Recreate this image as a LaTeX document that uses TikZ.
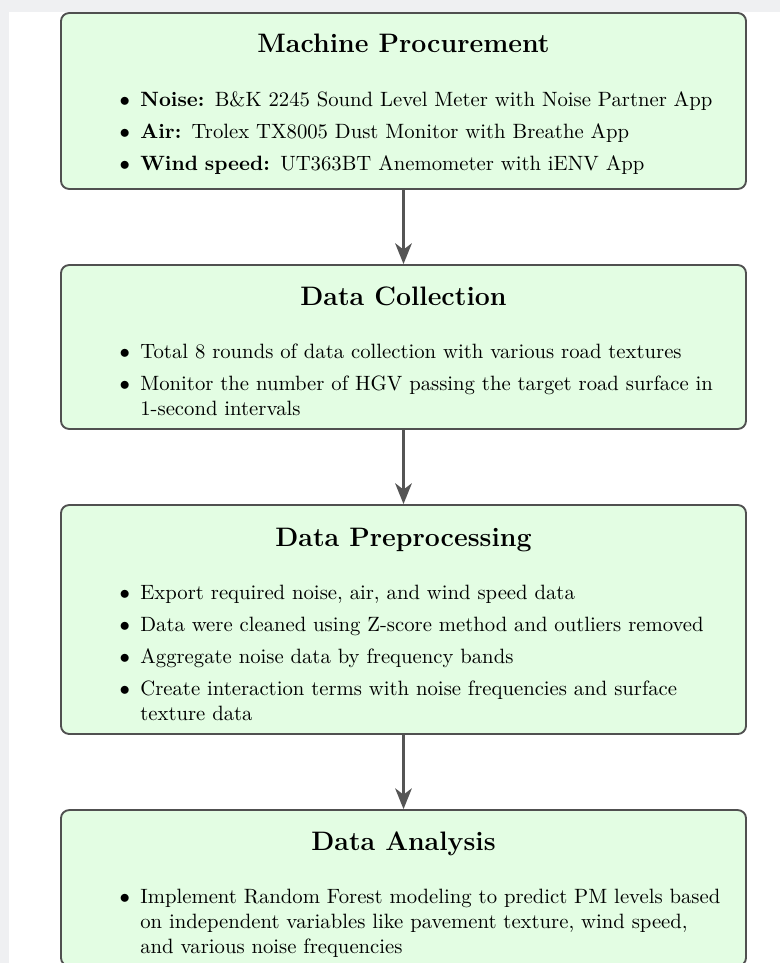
\documentclass[tikz,border=0pt]{standalone}
\usetikzlibrary{arrows.meta}
\definecolor{boxfill}{HTML}{E3FDE3}
\definecolor{boxdraw}{HTML}{505050}
\definecolor{arrowc}{HTML}{555555}
\definecolor{pagegray}{HTML}{EFF0F2}
\renewcommand{\labelitemi}{$\bullet$}
\newcommand{\stagelist}[1]{\begin{itemize}\setlength{\parskip}{0pt}\setlength{\itemsep}{3.5pt}#1\end{itemize}}
\tikzset{
  stagebox/.style={draw=boxdraw, fill=boxfill, line width=0.9pt, rounded corners=4pt,
    minimum width=330.9pt, inner sep=0pt},
  stagetitle/.style={anchor=base, font=\fontsize{12.9}{15}\selectfont\bfseries, inner sep=0pt},
  stagetext/.style={anchor=base west, text width=307pt, align=left, inner sep=0pt, font=\normalsize},
  flowarrow/.style={draw=arrowc, line width=1.45pt, -{Stealth[length=10pt, width=8pt, inset=3pt]}}
}
\begin{document}
\begin{tikzpicture}[x=0.483pt, y=-0.483pt]
\useasboundingbox (0,0) rectangle (780,963);
\fill[pagegray] (0,0) rectangle (780,963);
\fill[white] (9,12) rectangle (780,963);

\node[stagebox, minimum height=85.0pt] (b1) at (403.5,101) {};
\node[stagebox, minimum height=79.2pt] (b2) at (403.5,347) {};
\node[stagebox, minimum height=110.6pt] (b3) at (403.5,619.5) {};
\node[stagebox, minimum height=75.3pt] (b4) at (403.5,888) {};

\node[stagetitle] (t1) at (403.5,53) {Machine Procurement};
\node[stagetext] (l1) at (88.2,65) {\stagelist{
  \item \textbf{Noise:} B\&K 2245 Sound Level Meter with Noise Partner App
  \item \textbf{Air:} Trolex TX8005 Dust Monitor with Breathe App
  \item \textbf{Wind speed:} UT363BT Anemometer with iENV App}};

\node[stagetitle] (t2) at (403.5,306) {Data Collection};
\node[stagetext] (l2) at (88.2,317) {\stagelist{
  \item Total 8 rounds of data collection with various road textures
  \item Monitor the number of HGV passing the target road surface in 1-second intervals}};

\node[stagetitle] (t3) at (403.5,546) {Data Preprocessing};
\node[stagetext] (l3) at (88.2,558) {\stagelist{
  \item Export required noise, air, and wind speed data
  \item Data were cleaned using Z-score method and outliers removed
  \item Aggregate noise data by frequency bands
  \item Create interaction terms with noise frequencies and surface texture data}};

\node[stagetitle] (t4) at (403.5,850) {Data Analysis};
\node[stagetext] (l4) at (88.2,862) {\stagelist{
  \item Implement Random Forest modeling to predict PM levels based on independent variables like pavement texture, wind speed, and various noise frequencies}};

\draw[flowarrow] (b1.south) -- (b2.north);
\draw[flowarrow] (b2.south) -- (b3.north);
\draw[flowarrow] (b3.south) -- (b4.north);
\end{tikzpicture}
\end{document}
